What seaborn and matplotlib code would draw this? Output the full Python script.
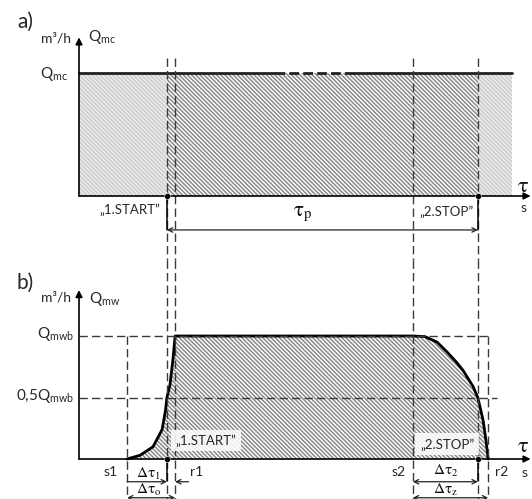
import numpy as np
import pandas as pd
import matplotlib.pyplot as plt
import seaborn as sns

# event times on the tau axis (arbitrary units, 0 = y axis)
t_s1, t_start, t_r1 = 11.1, 20.3, 22.2
t_s2, t_stop, t_r2 = 77.1, 92.1, 94.5
t_end = 100.0
t_gap = [45.3, 63.5]   # broken part of the Qmc line

q_mc = 1.0      # panel a level
q_mwb = 1.0     # panel b level
q_half = 0.5

# panel b: start-up and run-down curves
rise_t = [11.1, 14.1, 17.1, 19.2, 20.0, 20.3, 21.0, 21.7, 22.2]
rise_q = [0.0, 0.03, 0.10, 0.24, 0.40, 0.50, 0.60, 0.81, 1.0]
fall_t = [77.1, 79.9, 82.7, 85.0, 87.1, 88.7, 91.0, 92.1, 93.3, 94.0, 94.5]
fall_q = [1.0, 0.995, 0.95, 0.87, 0.79, 0.72, 0.59, 0.50, 0.32, 0.15, 0.0]

sns.set_theme(style="white")
plt.rcParams["font.family"] = ["Lato", "DejaVu Sans"]
plt.rcParams["mathtext.fontset"] = "custom"
plt.rcParams["mathtext.rm"] = "Lato"
plt.rcParams["mathtext.it"] = "Lato:italic"
plt.rcParams["hatch.linewidth"] = 1.1

PX_T, PX_Q = 4.33, 123.0
W, H = 532, 499
X0 = 79
SPLIT = 260

fig = plt.figure(figsize=(W / 100, H / 100), dpi=100)
ax_a = fig.add_axes([0, 1 - SPLIT / H, 1, SPLIT / H])
ax_b = fig.add_axes([0, 0, 1, (H - SPLIT) / H])
for ax, base, top_px, bot_px in [(ax_a, 196, 0, SPLIT), (ax_b, 459, SPLIT, H)]:
    ax.set_xlim(-X0 / PX_T, (W - X0) / PX_T)
    ax.set_ylim(-(bot_px - base) / PX_Q, (base - top_px) / PX_Q)
    ax.set_axis_off()

DARK = "#8a8a8a"
LIGHT = "#cdcdcd"
HATCH = "\\" * 8
DASH = dict(color="#3a3a3a", lw=1.0, linestyle=(0, (6, 3)), clip_on=False)
arrow_open = dict(arrowstyle="<->", lw=0.9, color="#222222", shrinkA=0, shrinkB=0, mutation_scale=8)
arrow_axis = dict(arrowstyle="-|>", lw=1.2, color="black", shrinkA=0, shrinkB=0, mutation_scale=10)
greek = dict(math_fontfamily="stix", color="#111111")


def axes_arrows(ax, ytop):
    ax.annotate("", xy=(0, ytop), xytext=(0, 0), arrowprops=arrow_axis)
    ax.annotate("", xy=(104.3, 0), xytext=(0, 0), arrowprops=arrow_axis)


# ---------------- panel a ----------------
ax = ax_a
ax.fill_between([0, t_start], 0, q_mc, facecolor="#eeeeee", edgecolor=LIGHT, hatch=HATCH, lw=0)
ax.fill_between([t_start, t_stop], 0, q_mc, facecolor="white", edgecolor=DARK, hatch=HATCH, lw=0)
ax.fill_between([t_stop, t_end], 0, q_mc, facecolor="#eeeeee", edgecolor=LIGHT, hatch=HATCH, lw=0)

sns.lineplot(x=[0, t_gap[0]], y=[q_mc, q_mc], ax=ax, color="#222222", lw=2)
sns.lineplot(x=t_gap, y=[q_mc, q_mc], ax=ax, color="#222222", lw=2, linestyle=(0, (3.5, 1.5)))
sns.lineplot(x=[t_gap[1], t_end], y=[q_mc, q_mc], ax=ax, color="#222222", lw=2)
axes_arrows(ax, 1.29)

ybot_a = ax.get_ylim()[0]
for t in [t_start, t_r1, t_s2, t_stop]:
    ax.plot([t, t], [1.122, ybot_a], **DASH)
for t in [t_start, t_stop]:
    ax.plot([t, t], [0, -0.276], color="black", lw=1.1)
sns.scatterplot(x=[t_start, t_stop], y=[0, 0], ax=ax, color="black", s=18, zorder=5)
ax.annotate("", xy=(t_start, -0.276), xytext=(t_stop, -0.276), arrowprops=arrow_open)

ax.text(-12.3, 1.415, "a)", fontsize=15, ha="center", va="center")
ax.text(-1.8, 1.28, "m³/h", fontsize=10, ha="right", va="center")
ax.text(2.0, 1.29, r"$\mathregular{Q_{mc}}$", fontsize=11, ha="left", va="center")
ax.text(-2.6, 0.99, r"$\mathregular{Q_{mc}}$", fontsize=11, ha="right", va="center")
ax.text(11.8, -0.115, "„1.START”", fontsize=9.5, ha="center", va="center")
ax.text(84.8, -0.13, "„2.STOP”", fontsize=9.5, ha="center", va="center")
ax.text(51.7, -0.15, r"$\mathrm{\tau}_\mathrm{p}$", fontsize=15, ha="center", va="center", **greek)
ax.text(102.5, 0.085, r"$\mathrm{\tau}$", fontsize=16, ha="center", va="center", **greek)
ax.text(102.6, -0.1, "s", fontsize=10, ha="center", va="center")

# ---------------- panel b ----------------
ax = ax_b
curve_t = rise_t + fall_t
curve_q = rise_q + fall_q
ax.fill_between(curve_t, 0, curve_q, facecolor="white", edgecolor=DARK, hatch=HATCH, lw=0)
sns.lineplot(x=curve_t, y=curve_q, ax=ax, color="black", lw=2, sort=False, estimator=None)
axes_arrows(ax, 1.374)

ytop_b, ybot_b = ax.get_ylim()[1], ax.get_ylim()[0]
ax.plot([0, t_r2], [q_mwb, q_mwb], **DASH)
ax.plot([0, 96.5], [q_half, q_half], **DASH)
for t in [t_s1, t_r2]:
    ax.plot([t, t], [q_mwb, ybot_b], **DASH)
for t in [t_start, t_r1, t_s2, t_stop]:
    ax.plot([t, t], [ytop_b, ybot_b], **DASH)
for t in [t_start, t_stop]:
    ax.plot([t, t], [0, -0.18], color="black", lw=1.1)
sns.scatterplot(x=[t_start, t_stop], y=[0, 0], ax=ax, color="black", s=18, zorder=5)

box = dict(boxstyle="square,pad=0.35", facecolor="white", edgecolor="none", alpha=0.85)
ax.text(29.3, 0.15, "„1.START”", fontsize=9.5, ha="center", va="center", bbox=box)
ax.text(85.0, 0.12, "„2.STOP”", fontsize=9.5, ha="center", va="center", bbox=box)

ax.text(-12.4, 1.43, "b)", fontsize=15, ha="center", va="center")
ax.text(-1.8, 1.31, "m³/h", fontsize=10, ha="right", va="center")
ax.text(2.4, 1.30, r"$\mathregular{Q_{mw}}$", fontsize=11, ha="left", va="center")
ax.text(-1.2, 1.015, r"$\mathregular{Q_{mwb}}$", fontsize=11, ha="right", va="center")
ax.text(-1.2, 0.51, r"$\mathregular{0{,}5Q_{mwb}}$", fontsize=11, ha="right", va="center")
ax.text(102.5, 0.105, r"$\mathrm{\tau}$", fontsize=16, ha="center", va="center", **greek)
ax.text(102.8, -0.11, "s", fontsize=10, ha="center", va="center")

for lab, t in [("s1", 7.4), ("r1", 27.2), ("s2", 73.9), ("r2", 97.5)]:
    ax.text(t, -0.105, lab, fontsize=10, ha="center", va="center")

one_way = dict(arrowstyle="->", lw=0.9, color="#222222", shrinkA=0, shrinkB=0, mutation_scale=8)
ax.annotate("", xy=(t_start, -0.185), xytext=(t_s1, -0.185), arrowprops=one_way)
ax.annotate("", xy=(t_r1, -0.185), xytext=(25.3, -0.185), arrowprops=one_way)
ax.annotate("", xy=(t_s1, -0.315), xytext=(t_r1, -0.315), arrowprops=arrow_open)
ax.annotate("", xy=(t_s2, -0.185), xytext=(t_stop, -0.185), arrowprops=arrow_open)
ax.annotate("", xy=(t_s2, -0.315), xytext=(t_r2, -0.315), arrowprops=arrow_open)

ax.text(16.1, -0.12, r"$\mathrm{\Delta\tau}_1$", fontsize=11, ha="center", va="center", **greek)
ax.text(16.1, -0.25, r"$\mathrm{\Delta\tau}_\mathrm{o}$", fontsize=11, ha="center", va="center", **greek)
ax.text(84.7, -0.1, r"$\mathrm{\Delta\tau}_2$", fontsize=11, ha="center", va="center", **greek)
ax.text(84.7, -0.25, r"$\mathrm{\Delta\tau}_\mathrm{z}$", fontsize=11, ha="center", va="center", **greek)

fig.savefig("out.png", dpi=100)
